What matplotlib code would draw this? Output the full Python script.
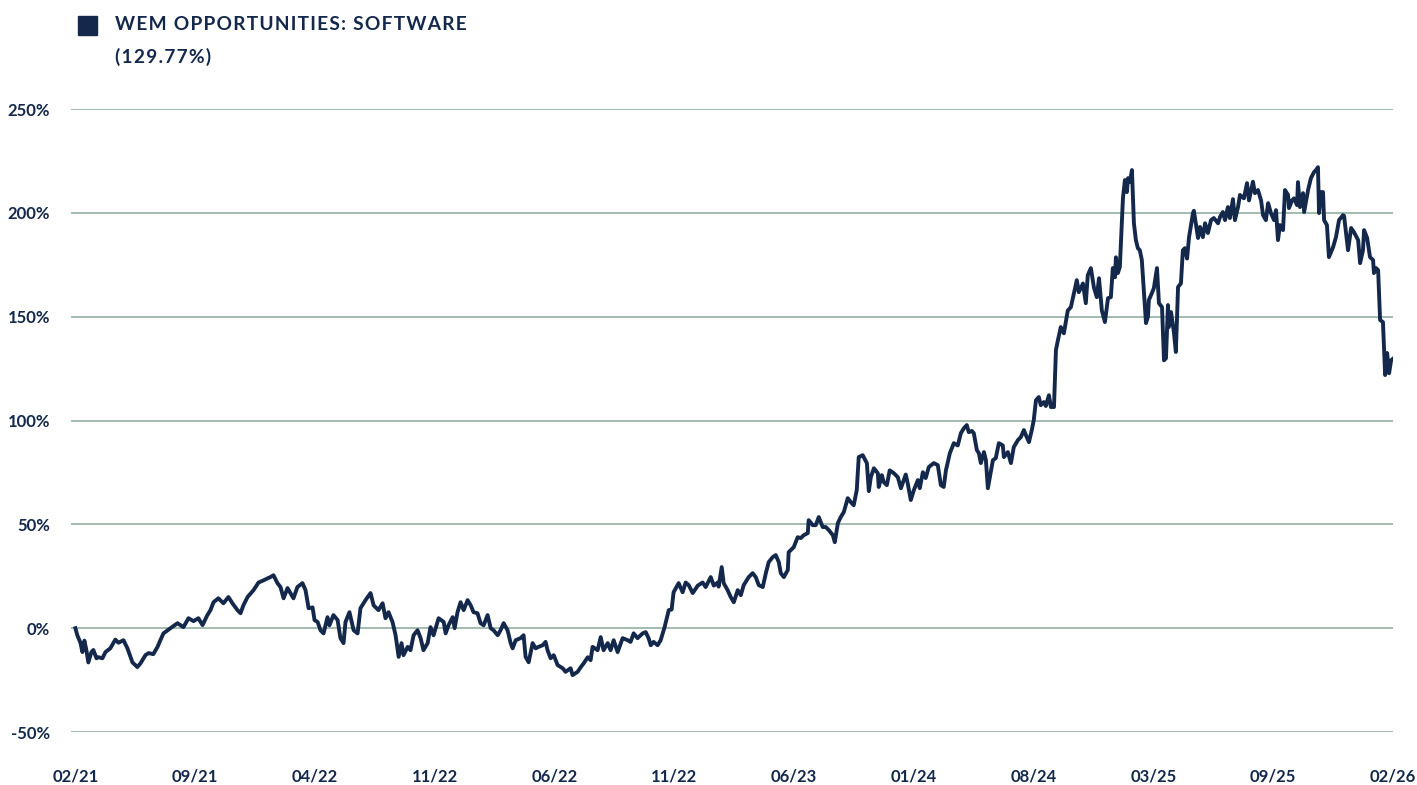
import numpy as np
import matplotlib
matplotlib.use("Agg")
import matplotlib.pyplot as plt

plt.rcParams['font.family'] = ['Lato', 'DejaVu Sans']

# months since 02/21 and cumulative return (%)
months = [
    0.00, 0.09, 0.23, 0.32, 0.41, 0.50, 0.59, 0.73, 0.82, 0.96, 1.05, 1.23, 1.37, 1.59, 1.82, 1.96,
    2.19, 2.37, 2.60, 2.82, 2.96, 3.19, 3.33, 3.55, 3.74, 3.87, 4.01, 4.33, 4.65, 4.92, 5.15, 5.38,
    5.60, 5.79, 6.01, 6.15, 6.29, 6.51, 6.74, 6.97, 7.15, 7.38, 7.52, 7.65, 7.84, 8.11, 8.34, 8.56,
    8.75, 8.88, 9.02, 9.20, 9.34, 9.48, 9.66, 9.79, 9.93, 10.11, 10.34, 10.48, 10.62, 10.80, 10.89,
    11.03, 11.16, 11.30, 11.48, 11.57, 11.75, 11.94, 12.07, 12.21, 12.30, 12.48, 12.67, 12.85, 12.98,
    13.21, 13.44, 13.58, 13.80, 13.99, 14.12, 14.26, 14.44, 14.58, 14.72, 14.85, 14.94, 15.13, 15.26,
    15.40, 15.58, 15.72, 15.85, 16.04, 16.17, 16.31, 16.54, 16.77, 16.86, 16.99, 17.18, 17.27, 17.40,
    17.54, 17.68, 17.86, 18.00, 18.13, 18.31, 18.45, 18.59, 18.77, 18.91, 19.04, 19.23, 19.36, 19.50,
    19.68, 19.82, 19.91, 20.05, 20.27, 20.41, 20.50, 20.64, 20.82, 20.96, 21.09, 21.28, 21.41, 21.50,
    21.64, 21.78, 21.96, 22.19, 22.32, 22.55, 22.64, 22.87, 23.01, 23.14, 23.33, 23.46, 23.55, 23.78,
    23.92, 24.05, 24.24, 24.37, 24.51, 24.69, 24.92, 25.15, 25.28, 25.42, 25.60, 25.83, 25.97, 26.10,
    26.20, 26.33, 26.51, 26.65, 26.83, 27.02, 27.15, 27.24, 27.47, 27.65, 27.79, 27.93, 28.11, 28.34,
    28.56, 28.70, 28.93, 29.07, 29.25, 29.29, 29.43, 29.52, 29.70, 29.84, 29.98, 30.16, 30.30, 30.43,
    30.66, 30.84, 30.98, 31.12, 31.30, 31.44, 31.57, 31.75, 31.89, 32.03, 32.12, 32.26, 32.44, 32.48,
    32.71, 32.89, 33.03, 33.17, 33.35, 33.39, 33.58, 33.71, 33.85, 34.03, 34.17, 34.31, 34.49, 34.58,
    34.72, 34.85, 34.99, 35.17, 35.31, 35.44, 35.58, 35.67, 35.85, 36.04, 36.13, 36.22, 36.36, 36.54,
    36.58, 36.72, 36.81, 36.95, 37.08, 37.27, 37.45, 37.59, 37.72, 37.81, 37.90, 38.04, 38.18, 38.36,
    38.45, 38.59, 38.72, 38.86, 39.09, 39.27, 39.41, 39.54, 39.64, 39.82, 40.00, 40.18, 40.32, 40.46,
    40.59, 40.68, 40.82, 40.91, 41.05, 41.14, 41.23, 41.37, 41.46, 41.55, 41.64, 41.78, 41.91, 42.05,
    42.23, 42.28, 42.46, 42.60, 42.73, 42.92, 43.05, 43.19, 43.28, 43.42, 43.55, 43.64, 43.74, 43.87,
    43.96, 44.10, 44.19, 44.33, 44.42, 44.56, 44.65, 44.74, 44.87, 45.01, 45.19, 45.33, 45.47, 45.60,
    45.69, 45.88, 46.01, 46.10, 46.24, 46.38, 46.51, 46.61, 46.74, 46.88, 47.02, 47.15, 47.24, 47.34,
    47.38, 47.47, 47.56, 47.65, 47.70, 47.79, 47.88, 47.93, 48.02, 48.11, 48.20, 48.29, 48.38, 48.47,
    48.56, 48.66, 48.75, 48.84, 48.88, 49.02, 49.11, 49.25, 49.34, 49.48, 49.57, 49.66, 49.75, 49.79,
    49.89, 50.02, 50.11, 50.21, 50.34, 50.43, 50.52, 50.62, 50.71, 50.89, 50.93, 51.12, 51.21, 51.34,
    51.44, 51.57, 51.71, 51.84, 52.03, 52.12, 52.25, 52.35, 52.48, 52.57, 52.71, 52.80, 52.94, 53.03,
    53.21, 53.35, 53.44, 53.62, 53.71, 53.85, 53.99, 54.08, 54.21, 54.31, 54.44, 54.58, 54.67, 54.76,
    54.85, 54.99, 55.08, 55.22, 55.26, 55.40, 55.49, 55.63, 55.67, 55.76, 55.90, 55.95, 56.13, 56.26,
    56.40, 56.49, 56.58, 56.63, 56.72, 56.81, 56.86, 56.99, 57.08, 57.27, 57.40, 57.54, 57.72, 57.77,
    57.95, 58.09, 58.22, 58.41, 58.50, 58.63, 58.68, 58.82, 58.95, 59.09, 59.13, 59.23, 59.32, 59.41,
    59.54, 59.64, 59.73, 59.82, 59.91, 60.00,
]
returns = [
    0, -3.5, -7, -11.5, -6, -10.5, -16.5, -11.5, -10.5, -14.5, -14, -14.5, -11.5, -9.7, -5.5, -7,
    -5.8, -9.7, -16.5, -18.7, -17, -13, -12, -12.5, -9, -5.8, -2.5, 0, 2.4, 0.5, 4.8, 3.4,
    4.8, 1.5, 6.3, 8.7, 12.5, 14.4, 12, 15, 12, 8.7, 7.2, 11, 15, 18.3, 22, 23,
    24, 24.6, 25.5, 21.7, 19.8, 14.4, 19.3, 16.9, 14.4, 19.8, 21.7, 18.3, 9.6, 10, 3.9,
    3, -1, -2.5, 5.3, 1.4, 6.3, 3.9, -4.8, -7.2, 3, 7.7, -1, -2.5, 9.6,
    13.5, 16.9, 11, 8.7, 12, 4.8, 7.7, 3, -3.4, -13.8, -7.2, -13, -9, -10.6,
    -3.4, -1, -4.8, -10.6, -7.2, 0.5, -3.4, 4.8, 3, -2.5, 1.4, 5.3, 0, 7.7,
    12.5, 8.7, 13.5, 11, 7.7, 7.2, 2.4, 1.4, 6.3, 0, -1, -3.4, -1, 2.4,
    -1, -7.2, -9.7, -5.8, -4.8, -3.4, -13.8, -16.4, -7.2, -9.7, -9, -8.2, -6.6, -10.6,
    -14.5, -13, -17.8, -19.3, -21, -19.3, -22.6, -21, -18.8, -17, -14, -15.4, -9, -10.6,
    -4.3, -10.6, -7.2, -10.6, -5.8, -11.5, -4.8, -5.8, -6.6, -2.5, -4.8, -2.5, -1.9, -4.8,
    -8.2, -6.6, -8.2, -5.8, 0.5, 8.7, 9, 17.3, 21.7, 17.3, 22, 20.7, 16.9, 20.5,
    22, 19.8, 24.6, 20.5, 22, 20, 29.4, 21.7, 18.3, 15, 12.5, 18.3, 15.9, 20.7,
    24.6, 26.5, 24.6, 20.7, 19.8, 26.5, 31.8, 34.2, 35.2, 31.8, 26.5, 24.6, 28, 36.6,
    39, 43.8, 43.4, 44.8, 45.8, 52, 49.6, 49.6, 53.5, 48.7, 48.7, 47.2, 44.8, 41.4,
    50.6, 53.5, 55.9, 62.6, 60.7, 59.2, 66.5, 82.4, 83.3, 79.5, 66, 72.7, 77, 74.6,
    68, 73.7, 70.3, 68.9, 76, 74.6, 72.7, 67.4, 71.3, 74, 69.8, 61.7, 66.5, 71.3,
    67.4, 75.1, 72.3, 77.6, 79.5, 78.5, 68.9, 68, 76, 84.3, 89.1, 88, 93.9, 96.3,
    97.8, 94.4, 95, 93.9, 85.7, 84.3, 79.5, 84.8, 80.9, 67.4, 72.7, 80.9, 81.9, 89.1,
    88, 82.4, 84.8, 79.5, 87.2, 90.6, 92, 95.4, 93, 89.6, 95.4, 100.2, 109.8, 111.3,
    107.4, 108.9, 107, 112.2, 106.5, 106.5, 134, 138.7, 145, 142, 153, 154.6, 161.4, 167.6,
    161.8, 166, 156.5, 170, 173.4, 164, 159.4, 168.5, 153, 147.4, 158.9, 159.4, 173.4, 169,
    178.6, 171, 174, 195, 207, 215.8, 210, 216.7, 215, 220.6, 195, 186.9, 183, 182,
    177.3, 161.4, 146.9, 150, 158, 161.4, 163.8, 173.4, 156.5, 154.6, 129, 130, 155.6, 145,
    152.2, 142.6, 133, 164.3, 166, 182, 183, 178, 188.3, 199.9, 201, 187.9, 193.2, 188.3,
    195, 190.3, 196.5, 197.5, 195, 198, 200.4, 196.5, 202.8, 197.5, 206.6, 196.5, 202.8, 208.6,
    207, 214.3, 206, 215, 209.5, 211, 206, 198.9, 196.5, 204.7, 199.9, 196.5, 201.3, 186.9,
    194.1, 191.7, 211, 208.6, 202.3, 206, 207, 203.7, 214.8, 202.8, 209.5, 200.4, 211, 216.7,
    219.6, 220.6, 222, 199.9, 210, 210, 196.5, 194.1, 178.7, 183.5, 188.3, 196.5, 198.9, 198.5,
    182, 192.7, 190.7, 186.9, 175.8, 182, 191.7, 187.9, 178.7, 177.3, 171, 173.4, 172.4, 148.4,
    147.4, 121.9, 132.5, 122.8, 129, 129.77,
]

tick_labels = ['02/21', '09/21', '04/22', '11/22', '06/22', '11/22',
               '06/23', '01/24', '08/24', '03/25', '09/25', '02/26']
y_ticks = [-50, 0, 50, 100, 150, 200, 250]
series_name = 'WEM OPPORTUNITIES: SOFTWARE'
series_total = '(129.77%)'

navy = '#13284b'
grid_col = '#8aa898'


def spaced(s):
    # letter-spaced caption like the original
    return '\u200a'.join(s)


fig = plt.figure(figsize=(14.17, 7.85), dpi=100)
ax = fig.add_axes([0.0501, 0.0675, 0.9330, 0.7936])

ax.plot(months, returns, color=navy, lw=2.8, solid_joinstyle='round', zorder=3)

ax.set_xlim(-0.2, 60.0)
ax.set_ylim(-50, 250)
ax.set_yticks(y_ticks)
ax.set_yticklabels([f'{v}%' for v in y_ticks])
ax.set_xticks(np.linspace(0, 60, len(tick_labels)))
ax.set_xticklabels(tick_labels)

ax.grid(axis='y', color=grid_col, lw=1.1)
ax.grid(axis='x', visible=False)
for s in ax.spines.values():
    s.set_visible(False)
ax.tick_params(length=0, colors=navy, labelsize=12)
ax.tick_params(axis='y', pad=15)
ax.tick_params(axis='x', pad=26)
for lab in ax.get_xticklabels() + ax.get_yticklabels():
    lab.set_fontweight('bold')

# legend-style header
fig.patches.append(plt.Rectangle((78 / 1417, 1 - 35 / 785), 19 / 1417, 19 / 785,
                                 transform=fig.transFigure, color=navy))
fig.text(115 / 1417, 1 - 25 / 785, spaced(series_name),
         fontsize=13.8, fontweight='bold', color=navy, va='center')
fig.text(115 / 1417, 1 - 57 / 785, spaced(series_total), fontsize=13.8, fontweight='bold',
         color=navy, va='center')

fig.savefig('out.png', dpi=100)
